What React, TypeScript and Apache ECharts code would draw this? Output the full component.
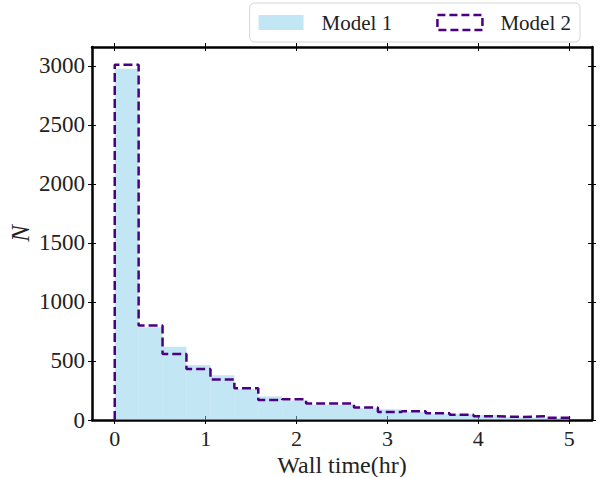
import React, { useEffect, useRef } from "react";
import * as echarts from "echarts";

const binEdges = [
  0, 0.263, 0.526, 0.789, 1.053, 1.316, 1.579, 1.842, 2.105, 2.368, 2.632,
  2.895, 3.158, 3.421, 3.684, 3.947, 4.211, 4.474, 4.737, 5.0,
];
const model1Counts = [
  2975, 785, 620, 465, 380, 262, 200, 165, 130, 128, 100, 91, 70, 55, 50, 43, 25, 22, 18,
];
const model2Counts = [
  3010, 800, 560, 432, 344, 270, 170, 176, 139, 139, 105, 68, 74, 57, 45, 31, 26, 31, 20,
];
const xTicks = [0, 1, 2, 3, 4, 5];
const yTicks = [0, 500, 1000, 1500, 2000, 2500, 3000];
const seriesNames = ["Model 1", "Model 2"];

const FONT = "'Liberation Serif', 'DejaVu Serif', serif";

export default function App() {
  const ref = useRef<HTMLDivElement>(null);
  useEffect(() => {
    if (!ref.current) return;
    const chart = echarts.init(ref.current, null, { renderer: "svg" });

    const rects = model1Counts.map((v, i) => [binEdges[i], binEdges[i + 1], v]);
    const stepPts: number[][] = [[binEdges[0], 0]];
    model2Counts.forEach((v, i) => {
      stepPts.push([binEdges[i], v]);
      stepPts.push([binEdges[i + 1], v]);
    });
    stepPts.push([binEdges[binEdges.length - 1], 0]);

    const xMin = -0.25, xMax = 5.25, yMax = 3160;
    const lineStyle = { color: "#000", width: 2.5 };
    const fmt = (v: number) => String(v);
    const mkX = (pos: string, inside: boolean, labels: boolean, showLine: boolean, extra: any = {}) => ({
      type: "value", position: pos, min: xMin, max: xMax, gridIndex: 0,
      splitLine: { show: false },
      axisLine: { show: showLine, onZero: false, lineStyle },
      axisTick: { show: true, inside, length: 4, customValues: xTicks, lineStyle: { color: "#000", width: 1 } },
      axisLabel: labels
        ? { show: true, customValues: xTicks, margin: 8, fontSize: 22, lineHeight: 20, color: "#222", fontFamily: FONT, formatter: fmt }
        : { show: false },
      ...extra,
    });
    const mkY = (pos: string, inside: boolean, labels: boolean, showLine: boolean, extra: any = {}) => ({
      type: "value", position: pos, min: 0, max: yMax, gridIndex: 0,
      splitLine: { show: false },
      axisLine: { show: showLine, onZero: false, lineStyle },
      axisTick: { show: true, inside, length: 4, customValues: yTicks, lineStyle: { color: "#000", width: 1 } },
      axisLabel: labels
        ? { show: true, customValues: yTicks, margin: 7, fontSize: 23, color: "#222", fontFamily: FONT, formatter: fmt }
        : { show: false },
      ...extra,
    });

    chart.setOption({
      animation: false,
      backgroundColor: "#fff",
      grid: { left: 92, right: 8, top: 47, bottom: 57, containLabel: false, outerBoundsMode: "none" },
      legend: {
        right: 20,
        top: 3,
        itemWidth: 45,
        itemHeight: 15,
        itemGap: 44,
        padding: [9, 9, 9, 9],
        borderColor: "#d6d6d6",
        borderWidth: 1,
        borderRadius: 5,
        backgroundColor: "#fff",
        textStyle: { fontSize: 21, fontFamily: FONT, color: "#222", padding: [0, 0, 0, 13] },
        data: [
          { name: seriesNames[0], icon: "rect", itemStyle: { color: "rgba(135,206,235,0.5)", borderWidth: 0 } },
          {
            name: seriesNames[1],
            icon: "rect",
            itemStyle: { color: "rgba(0,0,0,0)", borderColor: "#4B0082", borderWidth: 2.5, borderType: [8, 4] },
          },
        ],
      },
      xAxis: [
        mkX("bottom", false, true, true, {
          name: "Wall time(hr)",
          nameLocation: "middle",
          nameGap: 45,
          nameMoveOverlap: false,
          nameTextStyle: { fontSize: 24, lineHeight: 22, fontFamily: FONT, color: "#222", verticalAlign: "middle" },
        }),
        mkX("top", false, false, true),
        mkX("bottom", true, false, false),
        mkX("top", true, false, false),
      ],
      yAxis: [
        mkY("left", false, true, true, {
          name: "N",
          nameLocation: "middle",
          nameGap: 72,
          nameRotate: 90,
          nameMoveOverlap: false,
          nameTextStyle: { fontSize: 25, fontFamily: FONT, fontStyle: "italic", color: "#222", verticalAlign: "middle" },
        }),
        mkY("right", false, false, true),
        mkY("left", true, false, false),
        mkY("right", true, false, false),
      ],
      series: [
        {
          name: seriesNames[0],
          type: "custom",
          xAxisIndex: 0,
          yAxisIndex: 0,
          itemStyle: { color: "rgba(135,206,235,0.5)" },
          encode: { x: [0, 1], y: 2 },
          data: rects,
          renderItem: (params: any, api: any) => {
            const p0 = api.coord([api.value(0), api.value(2)]);
            const p1 = api.coord([api.value(1), 0]);
            return {
              type: "rect",
              shape: { x: p0[0], y: p0[1], width: p1[0] - p0[0], height: p1[1] - p0[1] },
              style: { fill: "rgba(135,206,235,0.5)" },
            };
          },
          z: 2,
        },
        {
          name: seriesNames[1],
          type: "line",
          xAxisIndex: 0,
          yAxisIndex: 0,
          data: stepPts,
          showSymbol: false,
          symbol: "none",
          itemStyle: { color: "#4B0082" },
          lineStyle: { color: "#4B0082", width: 2.5, type: [9, 4] },
          z: 3,
        },
      ],
    });
    return () => chart.dispose();
  }, []);
  return <div ref={ref} style={{ width: 600, height: 477, position: "absolute", left: 0, top: 0 }} />;
}
